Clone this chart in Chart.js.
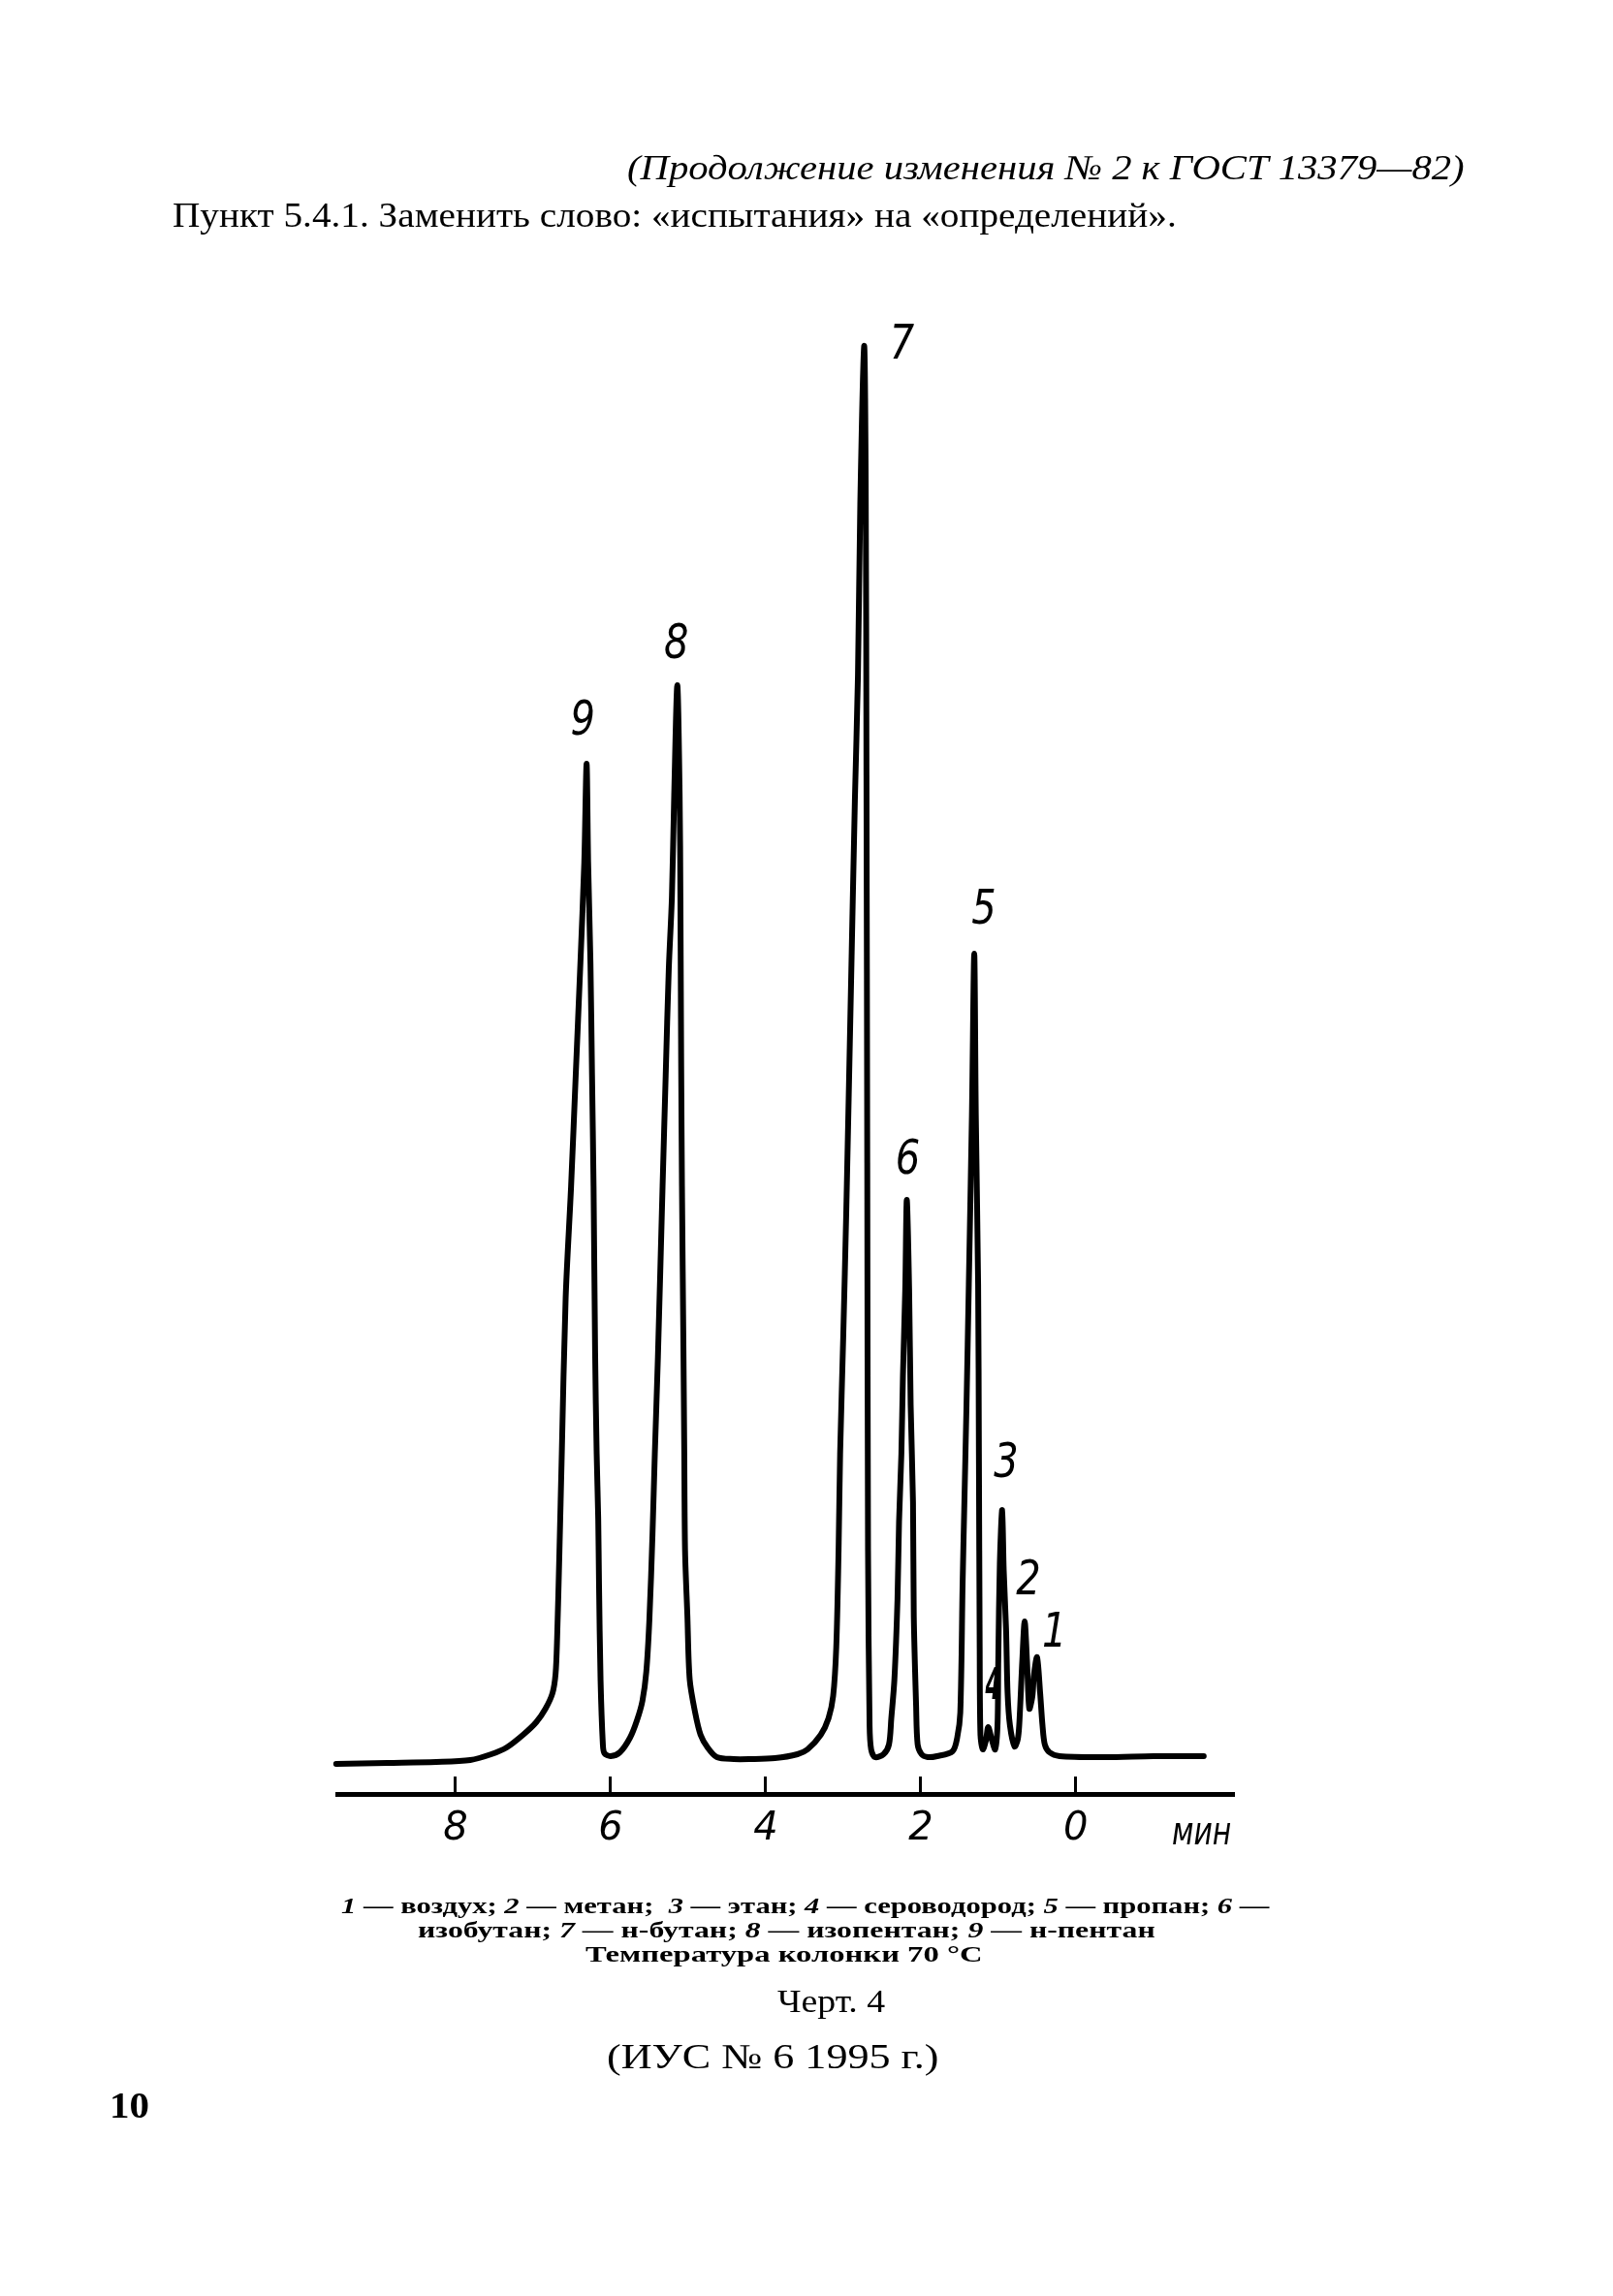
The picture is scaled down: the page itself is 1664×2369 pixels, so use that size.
<!DOCTYPE html>
<html lang="ru">
<head>
<meta charset="utf-8">
<title>Черт. 4</title>
<script src="https://cdn.jsdelivr.net/npm/chart.js@4.4.1/dist/chart.umd.min.js"></script>
<style>
  html, body { margin: 0; padding: 0; background: #fff; }
  body { width: 1664px; height: 2369px; position: relative; overflow: hidden; }
  #chart { position: absolute; left: 0; top: 0; }
  .txt { position: absolute; white-space: nowrap; color: #000; line-height: 1; transform-origin: 0 50%; }
  .serif { font-family: 'Liberation Serif', 'DejaVu Serif', serif; }
  .cap { font-weight: bold; font-size: 23px; }
</style>
</head>
<body>
<canvas id="chart" width="1664" height="2369"></canvas>

<div class="txt serif" data-l="647" data-r="1511" data-y="173" style="font-style: italic; font-size: 36px;">(Продолжение изменения № 2 к ГОСТ 13379—82)</div>
<div class="txt serif" data-l="178" data-r="1214" data-y="222" style="font-size: 35px;">Пункт 5.4.1. Заменить слово: «испытания» на «определений».</div>

<div class="txt" data-l="1209" data-r="1270" data-y="1889" style="font-family: 'DejaVu Sans'; font-style: italic; font-size: 40px;">мин</div>

<div class="txt serif cap" data-l="352" data-r="1309" data-y="1966"><i>1</i> — воздух; <i>2</i> — метан;&nbsp; <i>3</i> — этан; <i>4</i> — сероводород; <i>5</i> — пропан; <i>6</i> —</div>
<div class="txt serif cap" data-l="431" data-r="1192" data-y="1991">изобутан; <i>7</i> — н-бутан; <i>8</i> — изопентан; <i>9</i> — н-пентан</div>
<div class="txt serif cap" data-l="604" data-r="1014" data-y="2016">Температура колонки 70 °С</div>
<div class="txt serif" data-l="802" data-r="913" data-y="2065" style="font-size: 33px;">Черт. 4</div>
<div class="txt serif" data-l="626" data-r="969" data-y="2122" style="font-size: 36px;">(ИУС № 6 1995 г.)</div>
<div class="txt serif" data-l="113" data-r="154" data-y="2172" style="font-size: 38px; font-weight: bold;">10</div>

<script>
// Chromatogram, Черт. 4 — retention time in minutes (axis runs right to left), signal in arbitrary units
const traceTime = [
  9.54, 8.88, 8.25, 7.81, 7.54, 7.34, 7.13, 6.96, 6.84, 6.75, 6.71, 6.69, 6.66, 6.63, 6.58, 6.51, 6.45, 6.39, 6.34, 6.31,
  6.29, 6.26, 6.24, 6.22, 6.20, 6.18, 6.16, 6.15, 6.13, 6.10, 6.08, 6.00, 5.88, 5.75, 5.66, 5.59, 5.54, 5.50, 5.46, 5.43, 5.39, 5.33, 5.29, 5.25, 5.21, 5.18, 5.14,
  5.11, 5.10, 5.09, 5.08, 5.06, 5.05, 5.04, 5.01, 4.98, 4.91, 4.84, 4.75, 4.63, 4.41, 4.21, 3.88, 3.59, 3.46, 3.29, 3.19, 3.13, 3.09, 3.06, 3.04, 3.00, 2.96, 2.90, 2.85, 2.81, 2.78, 2.73,
  2.71, 2.70, 2.69, 2.68, 2.66, 2.64, 2.59, 2.48, 2.41, 2.38, 2.34, 2.30, 2.28, 2.25, 2.23, 2.20, 2.18,
  2.15, 2.13, 2.10, 2.09, 2.06, 2.04, 1.99, 1.91, 1.79, 1.59, 1.53, 1.49, 1.46, 1.44, 1.41, 1.38, 1.34, 1.31,
  1.29, 1.26, 1.25, 1.24, 1.23, 1.20, 1.16, 1.13, 1.08, 1.04, 1.01, 1.00, 0.98, 0.95,
  0.93, 0.90, 0.88, 0.85, 0.79, 0.75, 0.73, 0.69, 0.66, 0.63, 0.60, 0.56, 0.54, 0.50, 0.46, 0.43, 0.40, 0.34, 0.21, -0.38, -1.00, -1.65
];
const traceSignal = [
  3.1, 3.2, 3.3, 3.5, 4.1, 4.8, 6.1, 7.4, 8.8, 10.4, 12.4, 16.1, 25.1, 35.1, 51.2, 62.7, 74.2, 85.7, 96.1, 106.3,
  96.1, 85.7, 74.2, 62.7, 45.5, 35.1, 28.4, 21.8, 11.8, 5.1, 4.2, 3.9, 4.3, 5.8, 7.6, 9.6, 12.6, 18.0, 26.8, 35.1, 45.1, 62.7, 74.1, 85.1, 92.5, 103.1, 114.4,
  103.1, 92.5, 75.1, 62.7, 45.1, 35.1, 25.1, 18.4, 11.8, 8.4, 6.1, 4.8, 3.8, 3.6, 3.6, 3.7, 4.1, 4.6, 6.1, 7.8, 10.1, 15.1, 25.1, 35.1, 47.1, 60.3, 83.2, 102.4, 115.4, 133.1, 149.4,
  135.1, 105.1, 65.1, 25.1, 7.1, 4.6, 3.8, 4.1, 5.1, 7.8, 11.8, 20.1, 28.1, 35.1, 43.1, 52.1, 61.3,
  52.1, 40.1, 30.1, 18.4, 9.1, 5.1, 4.1, 3.8, 3.9, 4.4, 5.8, 8.4, 21.8, 29.1, 40.1, 52.6, 70.1, 86.7,
  70.1, 52.6, 35.1, 15.1, 6.1, 4.6, 5.5, 6.9, 5.5, 4.6, 7.1, 13.8, 23.8, 29.3,
  23.1, 17.1, 10.4, 7.1, 4.9, 5.6, 7.1, 13.8, 17.8, 13.8, 8.8, 10.1, 12.3, 14.1, 10.4, 7.1, 5.1, 4.3, 3.9, 3.8, 3.9, 3.9
];

// peak numbers with their apex (time, signal)
const peakNames = ['1', '2', '3', '4', '5', '6', '7', '8', '9'];
const peakTimes = [0.50, 0.66, 0.95, 1.13, 1.31, 2.18, 2.73, 5.14, 6.31];
const peakHeights = [14.1, 17.8, 29.3, 6.9, 86.7, 61.3, 149.4, 114.4, 106.3];

// x axis ticks
const tickValues = [0, 2, 4, 6, 8];
const tickLabels = ['0', '2', '4', '6', '8'];

// where each peak number sits relative to its apex, in px
const labelOffsets = {
  '1': [18, -24], '2': [4, -41], '3': [4, -47], '4': [5, -40], '5': [10, -44],
  '6': [1, -40], '7': [39, 0], '8': [-1, -41], '9': [-4, -43]
};

// Fit page texts to their measured spans
function placeTexts() {
  document.querySelectorAll('.txt').forEach(el => {
    const l = +el.dataset.l, r = +el.dataset.r, y = +el.dataset.y;
    el.style.left = l + 'px';
    el.style.top = (y - el.offsetHeight / 2) + 'px';
    const k = (r - l) / el.offsetWidth;
    el.style.transform = 'scaleX(' + k.toFixed(4) + ')';
  });
}

// Draws the peak numbers next to the apexes
const peakLabelPlugin = {
  id: 'peakLabels',
  afterDatasetsDraw(chart) {
    const ctx = chart.ctx;
    const xs = chart.scales.x, ys = chart.scales.y;
    ctx.save();
    ctx.fillStyle = '#000';
    ctx.textAlign = 'center';
    ctx.textBaseline = 'middle';
    peakNames.forEach((name, i) => {
      const off = labelOffsets[name];
      const px = xs.getPixelForValue(peakTimes[i]) + off[0];
      const py = ys.getPixelForValue(peakHeights[i]) + off[1];
      ctx.save();
      ctx.translate(px, py);
      if (name === '4') {
        ctx.font = "italic bold 46px 'DejaVu Sans'";
        ctx.scale(0.5, 0.95);
      } else {
        ctx.font = "italic 50px 'DejaVu Sans'";
        ctx.scale(0.8, 1);
      }
      ctx.fillText(name, 0, 0);
      ctx.restore();
    });
    ctx.restore();
  }
};

function initChart() {
  const points = traceTime.map((t, i) => ({ x: t, y: traceSignal[i] }));
  const ctx = document.getElementById('chart').getContext('2d');
  new Chart(ctx, {
    type: 'line',
    data: {
      datasets: [{
        data: points,
        borderColor: '#000',
        borderWidth: 6,
        pointRadius: 0,
        fill: false,
        tension: 0.3,
        borderJoinStyle: 'round',
        borderCapStyle: 'round',
        clip: false
      }]
    },
    options: {
      responsive: false,
      animation: false,
      devicePixelRatio: 1,
      layout: { padding: { left: 348, right: 391, top: 331, bottom: 438 } },
      plugins: { legend: { display: false }, tooltip: { enabled: false } },
      scales: {
        x: {
          type: 'linear',
          reverse: true,
          min: -2.04,
          max: 9.525,
          afterBuildTicks: s => { s.ticks = tickValues.map(v => ({ value: v })); },
          afterFit: s => { s.height = 80; },
          ticks: {
            callback: (v, i) => tickLabels[i],
            font: { family: 'DejaVu Sans', style: 'italic', size: 40 },
            color: '#000',
            padding: 31,
            maxRotation: 0,
            autoSkip: false
          },
          grid: { drawOnChartArea: false, drawTicks: true, tickLength: -18, tickWidth: 3, tickColor: '#000' },
          border: { display: true, color: '#000', width: 5 }
        },
        y: {
          display: false,
          min: 0,
          max: 152
        }
      }
    },
    plugins: [peakLabelPlugin]
  });
}

placeTexts();
initChart();
</script>
</body>
</html>
